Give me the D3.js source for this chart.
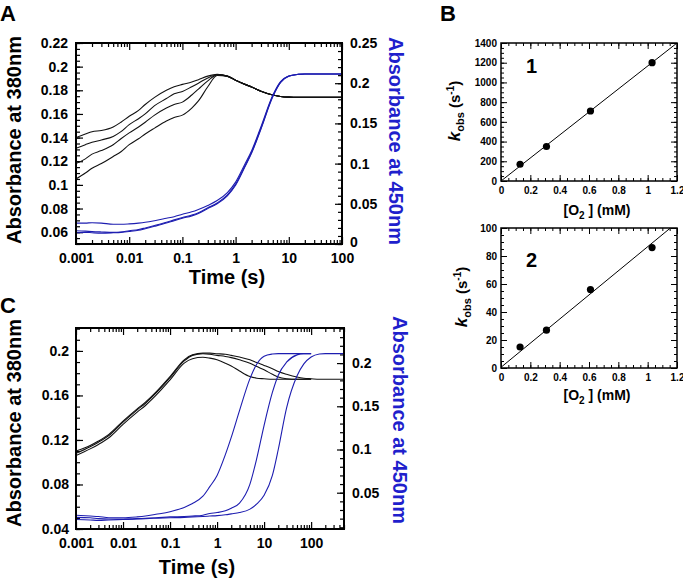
<!DOCTYPE html>
<html><head><meta charset="utf-8">
<script src="https://cdn.jsdelivr.net/npm/d3@7"></script>
<style>body{margin:0;background:#fff}svg{display:block}</style>
</head><body><svg id="c" width="683" height="580"></svg>
<script>
// ---------- DATA ----------
// Panel A: time points (s)
const tA = [0.001,0.0015,0.002,0.003,0.005,0.007,0.01,0.015,0.02,0.03,0.05,0.07,0.1,0.15,0.2,0.3,0.45,0.7,1,1.5,2,3,5,7,10,15,20,30,50,100];
// Absorbance at 380 nm (left axis), four traces
const a380_1 = [0.140,0.143,0.145,0.146,0.149,0.153,0.158,0.163,0.168,0.174,0.180,0.183,0.185,0.187,0.189,0.192,0.1935,0.192,0.1885,0.185,0.1828,0.1792,0.176,0.1748,0.1742,0.174,0.174,0.174,0.174,0.174];
const a380_2 = [0.131,0.134,0.136,0.138,0.141,0.145,0.151,0.156,0.160,0.167,0.173,0.177,0.179,0.183,0.186,0.1905,0.1932,0.192,0.1885,0.185,0.1828,0.1792,0.176,0.1748,0.1742,0.174,0.174,0.174,0.174,0.174];
const a380_3 = [0.118,0.122,0.126,0.129,0.134,0.139,0.144,0.149,0.153,0.159,0.165,0.168,0.170,0.176,0.181,0.188,0.193,0.192,0.1885,0.185,0.1828,0.1792,0.176,0.1748,0.1742,0.174,0.174,0.174,0.174,0.174];
const a380_4 = [0.105,0.110,0.114,0.118,0.124,0.128,0.134,0.139,0.143,0.148,0.154,0.157,0.159,0.165,0.171,0.183,0.1925,0.1918,0.1885,0.185,0.1828,0.1792,0.176,0.1748,0.1742,0.174,0.174,0.174,0.174,0.174];
// Absorbance at 450 nm (right axis), three traces
const a450_1 = [0.026,0.026,0.0265,0.026,0.0245,0.0245,0.025,0.026,0.027,0.029,0.032,0.034,0.037,0.040,0.043,0.048,0.054,0.064,0.077,0.0995,0.116,0.146,0.185,0.202,0.209,0.211,0.2115,0.2115,0.2115,0.2115];
const a450_2 = [0.0165,0.016,0.0155,0.015,0.0145,0.015,0.0165,0.018,0.020,0.023,0.027,0.030,0.033,0.036,0.039,0.045,0.051,0.061,0.0745,0.097,0.114,0.144,0.184,0.201,0.209,0.211,0.2115,0.2115,0.2115,0.2115];
const a450_3 = [0.014,0.0145,0.014,0.0135,0.014,0.0145,0.0155,0.017,0.019,0.022,0.026,0.029,0.032,0.035,0.038,0.044,0.050,0.060,0.073,0.096,0.113,0.143,0.183,0.201,0.2085,0.211,0.2115,0.2115,0.2115,0.2115];

// Panel C: time points (s)
const tC = [0.001,0.002,0.003,0.005,0.01,0.02,0.03,0.05,0.1,0.2,0.3,0.5,0.7,1,1.5,2,3,5,7,10,15,20,30,50,70,100,150,200,300,500];
const c380_1 = [0.110,0.115,0.119,0.125,0.137,0.148,0.154,0.163,0.177,0.192,0.1965,0.198,0.198,0.1975,0.197,0.196,0.1945,0.192,0.1895,0.187,0.184,0.1815,0.179,0.1765,0.1755,0.175,0.1745,0.1745,0.1745,0.1745];
const c380_2 = [0.108,0.114,0.118,0.124,0.136,0.147,0.153,0.162,0.176,0.191,0.196,0.1975,0.197,0.196,0.195,0.194,0.192,0.189,0.186,0.183,0.179,0.1765,0.175,0.1745,0.1745,0.1745,null,null,null,null];
const c380_3 = [0.106,0.112,0.116,0.122,0.134,0.145,0.151,0.160,0.174,0.189,0.193,0.1943,0.1935,0.192,0.189,0.1865,0.182,0.177,0.1755,0.175,0.1745,0.1745,0.1745,0.1745,0.1745,0.1745,null,null,null,null];
const c450_1 = [0.024,0.023,0.0225,0.021,0.021,0.022,0.023,0.025,0.028,0.033,0.0375,0.046,0.057,0.070,0.094,0.114,0.145,0.182,0.199,0.208,0.2105,0.211,0.211,0.211,0.211,0.211,null,null,null,null];
const c450_2 = [0.0215,0.021,0.020,0.0195,0.0195,0.020,0.0205,0.021,0.022,0.0225,0.023,0.024,0.026,0.027,0.029,0.032,0.038,0.060,0.090,0.128,0.166,0.186,0.201,0.2095,0.211,0.211,null,null,null,null];
const c450_3 = [0.019,0.0185,0.018,0.0185,0.019,0.0195,0.020,0.0205,0.021,0.0215,0.022,0.0225,0.023,0.0235,0.0245,0.0255,0.027,0.031,0.037,0.047,0.070,0.100,0.148,0.185,0.199,0.207,0.2105,0.211,0.211,0.211];

// Panel B: kobs vs [O2]
const o2 = [0.13,0.31,0.61,1.03];
const kobs1 = [170,350,710,1200];
const kobs2 = [15,27,56,86];
const fit1X = [0,1.2], fit1Y = [0,1400];
const fit2X = [0,1.155], fit2Y = [0.5,100];

// Tick labels
const xTicksA = [0.001,0.01,0.1,1,10,100];
const yTicksAL = [0.06,0.08,0.1,0.12,0.14,0.16,0.18,0.2,0.22];
const yTicksAR = [0,0.05,0.1,0.15,0.2,0.25];
const xTicksC = [0.001,0.01,0.1,1,10,100];
const yTicksCL = [0.04,0.08,0.12,0.16,0.2];
const yTicksCR = [0.05,0.1,0.15,0.2];
const xTicksB = [0,0.2,0.4,0.6,0.8,1,1.2];
const yTicksB1 = [0,200,400,600,800,1000,1200,1400];
const yTicksB2 = [0,20,40,60,80,100];

// ---------- DRAWING ----------
const F = '"Liberation Sans", Arial, Helvetica, sans-serif';
const BLUE_LINE = "#1d1db0", BLUE_TEXT = "#1f1fcc";
const svg = d3.select("#c");
const fmt = d => String(+d.toFixed(4));

function addAxis(gen, tx, ty, size, sw){
  const g = svg.append("g").attr("transform",`translate(${tx},${ty})`).call(gen);
  g.select(".domain").remove();
  g.attr("font-family",null).attr("font-size",null);
  g.selectAll("text").attr("font-family",F).attr("font-size",size||10).attr("font-weight","bold").attr("fill","#000");
  g.selectAll("line").attr("stroke","#000").attr("stroke-width",sw||1.2);
  return g;
}
function logMinors(lo, hi){
  const out=[];
  for(let k=-4;k<4;k++) for(let m=2;m<=9;m++){const v=m*Math.pow(10,k); if(v>=lo*0.999&&v<=hi*1.001) out.push(v);}
  return out;
}
function linMinors(lo, hi, step){
  const out=[]; const n=Math.round((hi-lo)/step);
  for(let i=0;i<=n;i++) out.push(+(lo+i*step).toFixed(6));
  return out;
}
function frame(x0,y0,x1,y1,w){
  svg.append("rect").attr("x",x0).attr("y",y0).attr("width",x1-x0).attr("height",y1-y0)
    .attr("fill","none").attr("stroke","#000").attr("stroke-width",w);
}
function clip(id,x0,y0,x1,y1){
  svg.append("clipPath").attr("id",id).append("rect").attr("x",x0).attr("y",y0).attr("width",x1-x0).attr("height",y1-y0);
}
function series(ts, vs){ return ts.map((t,i)=>({t:t,v:vs[i]})); }
function drawLine(x,y,data,color,w,clipId){
  const line = d3.line().defined(d=>d.v!=null).x(d=>x(d.t)).y(d=>y(d.v)).curve(d3.curveMonotoneX);
  svg.append("path").datum(data).attr("d",line).attr("fill","none").attr("stroke",color)
    .attr("stroke-width",w).attr("clip-path",`url(#${clipId})`);
}
function txt(x,y,s,size,opts){
  opts=opts||{};
  return svg.append("text").attr("x",x).attr("y",y).text(s).attr("font-family",F)
    .attr("font-size",size).attr("font-weight","bold").attr("fill",opts.fill||"#000")
    .attr("text-anchor",opts.anchor||"start");
}
function rotText(cx,cy,angle,s,size,fill){
  svg.append("text").attr("transform",`translate(${cx},${cy}) rotate(${angle})`)
    .attr("text-anchor","middle").attr("dy","0.35em").text(s).attr("font-family",F)
    .attr("font-size",size).attr("font-weight","bold").attr("fill",fill||"#000");
}

// ===== Panel A =====
{
  const X0=76,X1=342,Y0=43,Y1=244;
  const x = d3.scaleLog().domain([0.001,100]).range([X0,X1]);
  const yL = d3.scaleLinear().domain([0.05,0.22]).range([Y1,Y0]);
  const yR = d3.scaleLinear().domain([0,0.25]).range([Y1,Y0]);
  clip("clipA",X0,Y0,X1,Y1);
  const mn = logMinors(0.001,100);
  addAxis(d3.axisBottom(x).tickValues(mn).tickFormat("").tickSize(-4),0,Y1);
  addAxis(d3.axisBottom(x).tickValues(xTicksA).tickFormat(fmt).tickSize(-7).tickPadding(9),0,Y1,14);
  addAxis(d3.axisTop(x).tickValues(mn).tickFormat("").tickSize(-4),0,Y0);
  addAxis(d3.axisTop(x).tickValues(xTicksA).tickFormat("").tickSize(-7),0,Y0);
  addAxis(d3.axisLeft(yL).tickValues(linMinors(0.05,0.22,0.005)).tickFormat("").tickSize(-4),X0,0);
  addAxis(d3.axisLeft(yL).tickValues(yTicksAL).tickFormat(fmt).tickSize(-7).tickPadding(8),X0,0,14);
  addAxis(d3.axisRight(yR).tickValues(linMinors(0,0.25,0.01)).tickFormat("").tickSize(-4),X1,0);
  const ra = addAxis(d3.axisRight(yR).tickValues(yTicksAR).tickFormat(fmt).tickSize(-7).tickPadding(8),X1,0,14);
  ra.selectAll("text").filter(d=>d===0).attr("y",-2);
  [a380_1,a380_2,a380_3,a380_4].forEach(v=>drawLine(x,yL,series(tA,v),"#111",1.1,"clipA"));
  [a450_1,a450_2,a450_3].forEach(v=>drawLine(x,yR,series(tA,v),BLUE_LINE,1.1,"clipA"));
  frame(X0,Y0,X1,Y1,2);
  txt(0,21,"A",22);
  rotText(14,140,-90,"Absorbance at 380nm",20);
  rotText(396,141,90,"Absorbance at 450nm",20,BLUE_TEXT);
  txt(227,284,"Time (s)",20,{anchor:"middle"});
}

// ===== Panel C =====
{
  const X0=76,X1=344,Y0=328,Y1=529;
  const x = d3.scaleLog().domain([0.001,500]).range([X0,X1]);
  const yL = d3.scaleLinear().domain([0.04,0.2206]).range([Y1,Y0]);
  const yR = d3.scaleLinear().domain([0.008,0.2406]).range([Y1,Y0]);
  clip("clipC",X0,Y0,X1,Y1);
  const mn = logMinors(0.001,500);
  addAxis(d3.axisBottom(x).tickValues(mn).tickFormat("").tickSize(-4),0,Y1);
  addAxis(d3.axisBottom(x).tickValues(xTicksC).tickFormat(fmt).tickSize(-7).tickPadding(9),0,Y1,14);
  addAxis(d3.axisTop(x).tickValues(mn).tickFormat("").tickSize(-4),0,Y0);
  addAxis(d3.axisTop(x).tickValues(xTicksC).tickFormat("").tickSize(-7),0,Y0);
  addAxis(d3.axisLeft(yL).tickValues(linMinors(0.04,0.22,0.01)).tickFormat("").tickSize(-4),X0,0);
  addAxis(d3.axisLeft(yL).tickValues(yTicksCL).tickFormat(fmt).tickSize(-7).tickPadding(7),X0,0,14);
  addAxis(d3.axisRight(yR).tickValues(linMinors(0.01,0.24,0.01)).tickFormat("").tickSize(-4),X1,0);
  addAxis(d3.axisRight(yR).tickValues(yTicksCR).tickFormat(fmt).tickSize(-7).tickPadding(8),X1,0,14);
  [c380_1,c380_2,c380_3].forEach(v=>drawLine(x,yL,series(tC,v),"#111",1.1,"clipC"));
  [c450_1,c450_2,c450_3].forEach(v=>drawLine(x,yR,series(tC,v),BLUE_LINE,1.1,"clipC"));
  frame(X0,Y0,X1,Y1,2);
  txt(0,313,"C",22);
  rotText(14,423,-90,"Absorbance at 380nm",20);
  rotText(400,420,90,"Absorbance at 450nm",20,BLUE_TEXT);
  txt(197,574,"Time (s)",20,{anchor:"middle"});
}

// ===== Panel B =====
function panelB(Y0,Y1,yMax,yTicks,yMinor,kvals,fx,fy,num,numY,titleY,klabX,klabY){
  const X0=501,X1=677;
  const x = d3.scaleLinear().domain([0,1.2]).range([X0,X1]);
  const y = d3.scaleLinear().domain([0,yMax]).range([Y1,Y0]);
  const id="clipB"+num; clip(id,X0,Y0,X1,Y1);
  const xm = linMinors(0,1.2,0.05), ym = linMinors(0,yMax,yMinor);
  addAxis(d3.axisBottom(x).tickValues(xm).tickFormat("").tickSize(-3),0,Y1,10,1);
  addAxis(d3.axisBottom(x).tickValues(xTicksB).tickFormat(fmt).tickSize(-6).tickPadding(6),0,Y1,10,1);
  addAxis(d3.axisTop(x).tickValues(xm).tickFormat("").tickSize(-3),0,Y0,10,1);
  addAxis(d3.axisTop(x).tickValues(xTicksB).tickFormat("").tickSize(-6),0,Y0,10,1);
  addAxis(d3.axisLeft(y).tickValues(ym).tickFormat("").tickSize(-3),X0,0,10,1);
  addAxis(d3.axisLeft(y).tickValues(yTicks).tickFormat(fmt).tickSize(-6).tickPadding(4),X0,0,10,1);
  addAxis(d3.axisRight(y).tickValues(ym).tickFormat("").tickSize(-3),X1,0,10,1);
  addAxis(d3.axisRight(y).tickValues(yTicks).tickFormat("").tickSize(-6),X1,0,10,1);
  svg.append("path").datum(fx.map((v,i)=>[v,fy[i]]))
    .attr("d",d3.line().x(d=>x(d[0])).y(d=>y(d[1]))).attr("stroke","#000").attr("stroke-width",1)
    .attr("fill","none").attr("clip-path",`url(#${id})`);
  svg.selectAll(null).data(o2.map((v,i)=>[v,kvals[i]])).enter().append("circle")
    .attr("cx",d=>x(d[0])).attr("cy",d=>y(d[1])).attr("r",3.6).attr("fill","#000");
  frame(X0,Y0,X1,Y1,1.5);
  txt(526,numY,String(num),20);
  const t = svg.append("text").attr("x",597).attr("y",titleY).attr("text-anchor","middle")
    .attr("font-family",F).attr("font-size",14).attr("font-weight","bold");
  t.append("tspan").text("[O");
  t.append("tspan").attr("font-size",10).attr("dy",4).text("2");
  t.append("tspan").attr("dy",-4).text(" ] (mM)");
  const k = svg.append("text").attr("transform",`translate(${klabX},${klabY}) rotate(-90)`)
    .attr("text-anchor","middle").attr("dy","0.35em")
    .attr("font-family",F).attr("font-size",15).attr("font-weight","bold");
  k.append("tspan").attr("font-style","italic").attr("font-size",17).text("k");
  k.append("tspan").attr("font-size",11).attr("dy",4).text("obs");
  k.append("tspan").attr("dy",-4).text(" (s");
  k.append("tspan").attr("font-size",10).attr("dy",-6).text("-1");
  k.append("tspan").attr("dy",6).text(")");
}
panelB(43,181,1400,yTicksB1,50,kobs1,fit1X,fit1Y,1,73,215,455,111);
panelB(228,368,100,yTicksB2,5,kobs2,fit2X,fit2Y,2,267,400,462,297);
txt(440,21,"B",22);
</script></body></html>
